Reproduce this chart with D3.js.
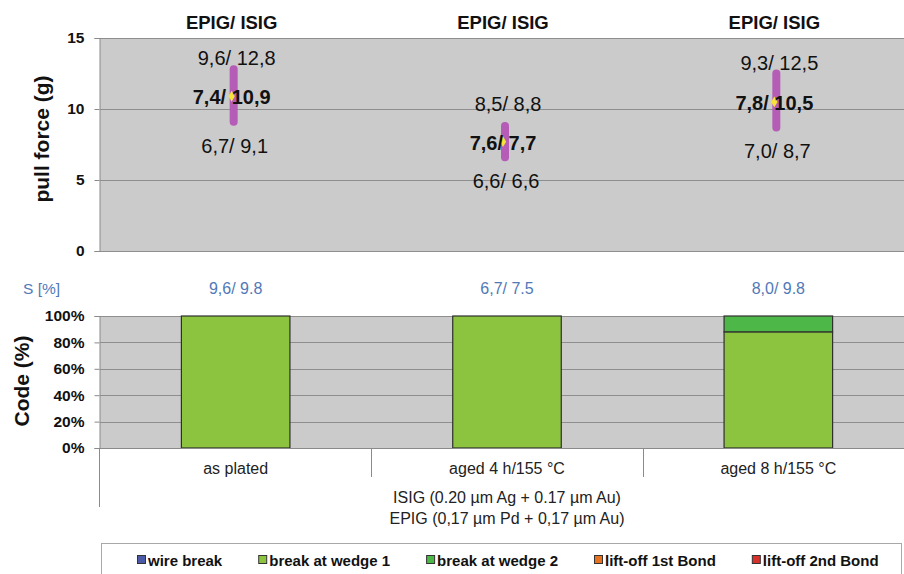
<!DOCTYPE html>
<html>
<head>
<meta charset="utf-8">
<script src="https://cdn.jsdelivr.net/npm/d3@7"></script>
<style>
  html, body { margin: 0; padding: 0; background: #ffffff; }
  svg { display: block; font-family: "Liberation Sans", Arial, sans-serif; }
</style>
</head>
<body>
<svg id="chart" width="904" height="574"></svg>
<script>
// Pull test of wedge bonds on EPIG / ISIG surfaces
const categories = ["as plated", "aged 4 h/155 °C", "aged 8 h/155 °C"];

// pull force (g): EPIG / ISIG min, mean, max
const epigMax  = [9.6, 8.5, 9.3];
const isigMax  = [12.8, 8.8, 12.5];
const epigMean = [7.4, 7.6, 7.8];
const isigMean = [10.9, 7.7, 10.5];
const epigMin  = [6.7, 6.6, 7.0];
const isigMin  = [9.1, 6.6, 8.7];

// standard deviation S [%]: EPIG / ISIG
const sEpig = [9.6, 6.7, 8.0];
const sIsig = [9.8, 7.5, 9.8];

// failure code distribution (%)
const codeNames = ["wire break", "break at wedge 1", "break at wedge 2", "lift-off 1st Bond", "lift-off 2nd Bond"];
const wireBreak = [0, 0, 0];
const wedge1    = [100, 100, 88];
const wedge2    = [0, 0, 12];
const liftOff1  = [0, 0, 0];
const liftOff2  = [0, 0, 0];
const codeColors = ["#4a5aa8", "#8cc440", "#4db848", "#e8731e", "#d8302b"];

const forceTicks = [0, 5, 10, 15];
const codeTicks = [0, 20, 40, 60, 80, 100];

const xLabel1 = "ISIG (0.20 µm Ag + 0.17 µm Au)";
const xLabel2 = "EPIG (0,17 µm Pd + 0,17 µm Au)";

const svg = d3.select("#chart");
const comma = v => d3.format(".1f")(v).replace(".", ",");
const dot = v => d3.format(".1f")(v);

const plotL = 100, plotR = 914;
const x = d3.scaleBand().domain(categories).range([plotL, plotR]).paddingInner(0).paddingOuter(0);
const cx = c => x(c) + x.bandwidth() / 2;

const bgColor = "#cbcbcb", gridColor = "#8e8e8e", axisColor = "#8a8a8a";

// ---------- upper panel: pull force ----------
const y1 = d3.scaleLinear().domain([0, 15]).range([251, 38]);

svg.append("rect").attr("x", plotL).attr("y", y1(15)).attr("width", plotR - plotL)
  .attr("height", y1(0) - y1(15)).attr("fill", bgColor);

svg.append("g").selectAll("line").data(forceTicks).join("line")
  .attr("x1", plotL).attr("x2", plotR)
  .attr("y1", d => Math.round(y1(d)) + 0.5).attr("y2", d => Math.round(y1(d)) + 0.5)
  .attr("stroke", gridColor).attr("stroke-width", 1);

const yAxis1 = svg.append("g").attr("transform", `translate(${plotL - 0.5},0)`)
  .call(d3.axisLeft(y1).tickValues(forceTicks).tickSize(5).tickPadding(10).tickFormat(d3.format("d")));
yAxis1.select(".domain").attr("stroke", axisColor);
yAxis1.selectAll(".tick line").attr("stroke", axisColor);
yAxis1.selectAll("text").attr("font-size", 15.5).attr("font-weight", "bold").attr("fill", "#111")
  .attr("font-family", "Liberation Sans, Arial, sans-serif");

svg.append("text").attr("transform", `translate(41,139) rotate(-90)`)
  .attr("text-anchor", "middle").attr("dominant-baseline", "central")
  .attr("font-size", 21).attr("font-weight", "bold").attr("fill", "#111").text("pull force (g)");

// headings above each group
svg.append("g").selectAll("text").data(categories).join("text")
  .attr("x", d => cx(d) - 4).attr("y", 22)
  .attr("text-anchor", "middle").attr("dominant-baseline", "central")
  .attr("font-size", 18.5).attr("font-weight", "bold").attr("fill", "#111").text("EPIG/ ISIG");

const groups = svg.append("g").selectAll("g").data(categories).join("g");

// spread of single measurements (ISIG min .. max)
groups.append("line")
  .attr("x1", d => cx(d) - 2).attr("x2", d => cx(d) - 2)
  .attr("y1", (d, i) => y1(isigMin[i])).attr("y2", (d, i) => y1(isigMax[i]))
  .attr("stroke", "#b45cb6").attr("stroke-width", 8).attr("stroke-linecap", "round");

// mean marker
groups.append("path")
  .attr("d", d3.symbol().type(d3.symbolDiamond).size(34))
  .attr("transform", (d, i) => `translate(${cx(d) - 4},${y1(isigMean[i])})`)
  .attr("fill", "#f6e43a");

// max labels
groups.append("text")
  .attr("x", d => cx(d) + 1)
  .attr("y", (d, i) => Math.min(y1(isigMax[i]) - 11, y1(isigMean[i]) - 38))
  .attr("text-anchor", "middle").attr("dominant-baseline", "central")
  .attr("font-size", 20).attr("fill", "#111")
  .text((d, i) => `${comma(epigMax[i])}/ ${comma(isigMax[i])}`);

// mean labels
groups.append("text")
  .attr("x", d => cx(d) - 4)
  .attr("y", (d, i) => y1(isigMean[i]) + 1)
  .attr("text-anchor", "middle").attr("dominant-baseline", "central")
  .attr("font-size", 20).attr("font-weight", "bold").attr("fill", "#111")
  .text((d, i) => `${comma(epigMean[i])}/ ${comma(isigMean[i])}`);

// min labels
groups.append("text")
  .attr("x", d => cx(d) - 1)
  .attr("y", (d, i) => y1(isigMin[i]) + 24)
  .attr("text-anchor", "middle").attr("dominant-baseline", "central")
  .attr("font-size", 20).attr("fill", "#111")
  .text((d, i) => `${comma(epigMin[i])}/ ${comma(isigMin[i])}`);

// ---------- standard deviation row ----------
const sBlue = "#5179b8";
svg.append("text").attr("x", 23).attr("y", 288).attr("dominant-baseline", "central")
  .attr("font-size", 15.5).attr("fill", sBlue).text("S [%]");
svg.append("g").selectAll("text").data(categories).join("text")
  .attr("x", d => cx(d)).attr("y", 288)
  .attr("text-anchor", "middle").attr("dominant-baseline", "central")
  .attr("font-size", 16).attr("fill", sBlue)
  .text((d, i) => `${comma(sEpig[i])}/ ${dot(sIsig[i])}`);

// ---------- lower panel: failure codes ----------
const y2 = d3.scaleLinear().domain([0, 100]).range([448, 316]);

svg.append("rect").attr("x", plotL).attr("y", y2(100)).attr("width", plotR - plotL)
  .attr("height", y2(0) - y2(100)).attr("fill", bgColor);

svg.append("g").selectAll("line").data(codeTicks).join("line")
  .attr("x1", plotL).attr("x2", plotR)
  .attr("y1", d => Math.round(y2(d)) + 0.5).attr("y2", d => Math.round(y2(d)) + 0.5)
  .attr("stroke", gridColor).attr("stroke-width", 1);

const codeTable = categories.map((c, i) => ({
  category: c,
  "wire break": wireBreak[i],
  "break at wedge 1": wedge1[i],
  "break at wedge 2": wedge2[i],
  "lift-off 1st Bond": liftOff1[i],
  "lift-off 2nd Bond": liftOff2[i]
}));
const stacked = d3.stack().keys(codeNames)(codeTable);
const barW = x.bandwidth() * 0.4;

svg.append("g").selectAll("g").data(stacked).join("g")
  .attr("fill", (d, i) => codeColors[i])
  .selectAll("rect").data(d => d.filter(p => p[1] - p[0] > 0)).join("rect")
  .attr("x", d => cx(d.data.category) - barW / 2)
  .attr("y", d => y2(d[1]))
  .attr("width", barW)
  .attr("height", d => y2(d[0]) - y2(d[1]))
  .attr("stroke", "#2f2f2f").attr("stroke-width", 1.2);

const yAxis2 = svg.append("g").attr("transform", `translate(${plotL - 0.5},0)`)
  .call(d3.axisLeft(y2).tickValues(codeTicks).tickSize(5).tickPadding(10).tickFormat(d => d + "%"));
yAxis2.select(".domain").attr("stroke", axisColor);
yAxis2.selectAll(".tick line").attr("stroke", axisColor);
yAxis2.selectAll("text").attr("font-size", 15.5).attr("font-weight", "bold").attr("fill", "#111")
  .attr("font-family", "Liberation Sans, Arial, sans-serif");

svg.append("text").attr("transform", `translate(21,381) rotate(-90)`)
  .attr("text-anchor", "middle").attr("dominant-baseline", "central")
  .attr("font-size", 21).attr("font-weight", "bold").attr("fill", "#111").text("Code (%)");

// category axis with two levels
const xAxis = svg.append("g").attr("transform", `translate(0,448)`)
  .call(d3.axisBottom(x).tickSize(0).tickPadding(12));
xAxis.select(".domain").remove();
xAxis.selectAll("text").attr("font-size", 16).attr("fill", "#222")
  .attr("font-family", "Liberation Sans, Arial, sans-serif")
  .attr("dy", null).attr("y", 20).attr("dominant-baseline", "central");

svg.append("line").attr("x1", plotL).attr("x2", plotR).attr("y1", 448.5).attr("y2", 448.5)
  .attr("stroke", axisColor);

// separators between groups (inner) and around the whole series (outer)
svg.append("g").selectAll("line").data(categories.slice(1)).join("line")
  .attr("x1", d => Math.round(x(d)) + 0.5).attr("x2", d => Math.round(x(d)) + 0.5)
  .attr("y1", 448).attr("y2", 477).attr("stroke", axisColor);
svg.append("g").selectAll("line").data([plotL, plotR]).join("line")
  .attr("x1", d => d - 0.5).attr("x2", d => d - 0.5)
  .attr("y1", 448).attr("y2", 507).attr("stroke", axisColor);

const midX = (plotL + plotR) / 2;
svg.append("text").attr("x", midX).attr("y", 497).attr("text-anchor", "middle")
  .attr("dominant-baseline", "central").attr("font-size", 16).attr("fill", "#222").text(xLabel1);
svg.append("text").attr("x", midX).attr("y", 518).attr("text-anchor", "middle")
  .attr("dominant-baseline", "central").attr("font-size", 16).attr("fill", "#222").text(xLabel2);

// ---------- legend ----------
svg.append("rect").attr("x", 101.5).attr("y", 543.5).attr("width", 800).attr("height", 40)
  .attr("fill", "#fff").attr("stroke", "#a8a8a8");

const legend = svg.append("g");
let lx = 137;
codeNames.forEach((name, i) => {
  legend.append("rect").attr("x", lx + 0.5).attr("y", 555.5).attr("width", 8).attr("height", 8)
    .attr("fill", codeColors[i]).attr("stroke", "#333").attr("stroke-width", 1);
  const t = legend.append("text").attr("x", lx + 11).attr("y", 560)
    .attr("dominant-baseline", "central").attr("font-size", 15).attr("font-weight", "bold")
    .attr("fill", "#111").text(name);
  lx += 11 + t.node().getComputedTextLength() + 36;
});
</script>
</body>
</html>
